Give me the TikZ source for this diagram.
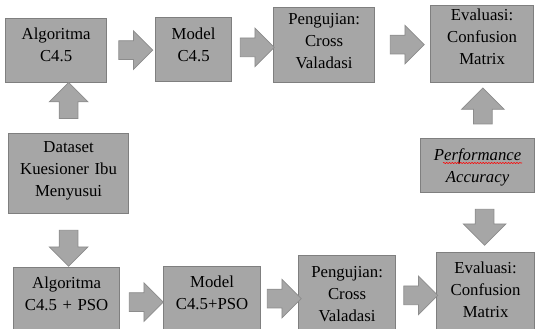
\documentclass[tikz,border=0pt]{standalone}
\usepackage{fontspec}
\setmainfont{Liberation Serif}
\usepackage{xcolor}
\definecolor{boxFill}{HTML}{A6A6A6}
\definecolor{boxLine}{HTML}{7F7F7F}
\definecolor{arrowLine}{HTML}{8C8C8C}
\usetikzlibrary{shapes.arrows, calc, decorations.pathmorphing}
\tikzset{
  stage/.style={draw=boxLine, fill=boxFill, line width=1pt, anchor=north west, align=center, inner sep=0pt, text height=0.63cm, font=\fontsize{14.3}{18.8}\selectfont},
  rarrow/.style={single arrow, draw=arrowLine, fill=boxFill, line width=0.6pt, inner xsep=0pt, inner ysep=0.27cm, single arrow head extend=0.3cm, minimum height=1.02cm},
  uarrow/.style={rarrow, rotate=90, minimum height=1.08cm},
  darrow/.style={rarrow, rotate=-90, minimum height=1.08cm}
}
\begin{document}
\begin{tikzpicture}[x=0.03cm, y=-0.03cm]
\path[use as bounding box, clip] (0,0) rectangle (535,328);
\node[stage, text width=3.03cm, text depth=1.29cm] (alg1) at (5,18) {Algoritma\\C4.5};
\node[stage, text width=2.28cm, text height=0.66cm, text depth=1.26cm] (mod1) at (155,17) {Model\\C4.5};
\node[stage, text width=3.03cm, text height=0.51cm, text depth=1.74cm] (uji1) at (273,7) {Pengujian:\\Cross\\Valadasi};
\node[stage, text width=3.09cm, text height=0.45cm, text depth=1.86cm] (eva1) at (430,5) {Evaluasi:\\Confusion\\Matrix};
\node[stage, text width=3.42cm, text height=0.66cm, text depth=0.96cm, font=\fontsize{14.3}{18.8}\selectfont\itshape] (perf) at (420,138) {Performance\\Accuracy};
\node[stage, text width=3.6cm, text height=0.57cm, text depth=1.83cm] (data) at (8,133) {Dataset\\Kuesioner Ibu\\Menyusui};
\node[stage, text width=3.18cm, text depth=1.47cm] (alg2) at (13,267) {Algoritma\\C4.5 + PSO};
\node[stage, text width=2.91cm, text depth=1.47cm] (mod2) at (163,266) {Model\\C4.5+PSO};
\node[stage, text width=2.91cm, text height=0.66cm, text depth=1.74cm] (uji2) at (298,255) {Pengujian:\\Cross\\Valadasi};
\node[stage, text width=2.94cm, text depth=1.92cm] (eva2) at (436,252) {Evaluasi:\\Confusion\\Matrix};

\node[rarrow] (a1) at ($(alg1.east)!0.5!(mod1.west)$) {};
\node[rarrow] (a2) at ($(mod1.east)!0.5!(uji1.west)$) {};
\node[rarrow] (a3) at ($(uji1.east)!0.5!(eva1.west)$) {};
\node[rarrow] (b1) at ($(alg2.east)!0.5!(mod2.west)$) {};
\node[rarrow] (b2) at ($(mod2.east)!0.5!(uji2.west)$) {};
\node[rarrow] (b3) at ($(uji2.east)!0.5!(eva2.west)$) {};
\node[uarrow, xshift=0.09cm] (up1) at ($(data.north)!0.5!(data.north |- alg1.south)$) {};
\node[darrow, xshift=0.09cm] (dn1) at ($(data.south)!0.5!(data.south |- alg2.north)$) {};
\node[uarrow, single arrow head extend=0.36cm, yshift=-0.09cm] (up2) at ($(perf.north)!0.5!(eva1.south)$) {};
\node[darrow, single arrow head extend=0.36cm, yshift=0.09cm] (dn2) at ($(perf.south)!0.5!(eva2.north)$) {};

\draw[red, line width=0.5pt, decorate, decoration={snake, amplitude=0.5pt, segment length=2.4pt}] ($(perf.north west)+(23,25)$) -- ($(perf.north west)+(102,25)$);
\end{tikzpicture}
\end{document}
